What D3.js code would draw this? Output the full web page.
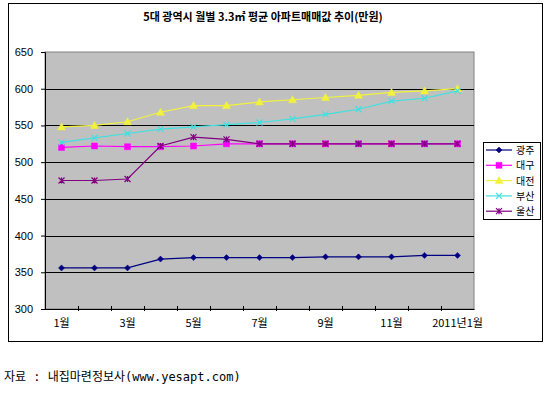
<!DOCTYPE html>
<html>
<head>
<meta charset="utf-8">
<script src="https://cdn.jsdelivr.net/npm/d3@7"></script>
<style>
  body { margin: 0; background: #fff; }
  text { font-family: "Noto Sans CJK KR", "Noto Sans", sans-serif; }
</style>
</head>
<body>
<div id="chart"></div>
<script>
var months = ['1월','2월','3월','4월','5월','6월','7월','8월','9월','10월','11월','12월','2011년1월'];
var monthLabels = ['1월','','3월','','5월','','7월','','9월','','11월','','2011년1월'];
var yTicks = [300, 350, 400, 450, 500, 550, 600, 650];

var gwangju = [356, 356, 356, 368, 370, 370, 370, 370, 371, 371, 371, 373, 373];
var daegu   = [520, 522, 521, 521, 522, 525, 525, 525, 525, 525, 525, 525, 525];
var daejeon = [548, 550, 555, 568, 577, 577, 582, 585, 588, 591, 595, 597, 600];
var busan   = [527, 533, 539, 545, 548, 551, 554, 559, 565, 572, 583, 587, 597];
var ulsan   = [475, 475, 477, 522, 534, 531, 525, 525, 525, 525, 525, 525, 525];

var seriesNames = ['광주', '대구', '대전', '부산', '울산'];
var seriesValues = [gwangju, daegu, daejeon, busan, ulsan];
var seriesColors = ['#000080', '#ff00ff', '#f2f23c', '#40e0e0', '#800080'];
var seriesMarkers = ['diamond', 'square', 'triangle', 'x', 'star'];

var width = 550, height = 393;
var svg = d3.select('#chart').append('svg')
    .attr('width', width)
    .attr('height', height);

// outer chart frame
svg.append('rect')
    .attr('x', 8.5).attr('y', 3.5)
    .attr('width', 534).attr('height', 338)
    .attr('fill', '#fff')
    .attr('stroke', '#000');

svg.append('text')
    .attr('x', 263).attr('y', 21)
    .attr('text-anchor', 'middle')
    .style('font-size', '11px')
    .style('font-weight', 'bold')
    .text('5대 광역시 월별 3.3㎡ 평균 아파트매매값 추이(만원)');

var plot = {left: 45, top: 52, right: 474, bottom: 309};

var x = d3.scaleBand()
    .domain(months)
    .range([plot.left, plot.right]);

var y = d3.scaleLinear()
    .domain([300, 650])
    .range([plot.bottom, plot.top]);

svg.append('rect')
    .attr('x', plot.left).attr('y', plot.top)
    .attr('width', plot.right - plot.left)
    .attr('height', plot.bottom - plot.top)
    .attr('fill', '#c0c0c0')
    .attr('stroke', '#808080');

svg.append('g')
    .selectAll('line')
    .data(yTicks.slice(1, -1))
    .enter()
    .append('line')
    .attr('x1', plot.left).attr('x2', plot.right)
    .attr('y1', function(d){ return Math.round(y(d)) + 0.5; })
    .attr('y2', function(d){ return Math.round(y(d)) + 0.5; })
    .attr('stroke', '#000');

var yAxis = svg.append('g')
    .attr('transform', 'translate(' + plot.left + ',0)')
    .call(d3.axisLeft(y).tickValues(yTicks).tickSize(4).tickPadding(8));
yAxis.select('.domain').attr('stroke', '#000');
yAxis.selectAll('text').style('font-size', '11px').attr('fill', '#000').style('font-family', 'Arial, "Liberation Sans", sans-serif');

var xAxis = svg.append('g')
    .attr('transform', 'translate(0,' + plot.bottom + ')')
    .call(d3.axisBottom(x).tickSize(0).tickPadding(10)
        .tickFormat(function(d, i){ return monthLabels[i]; }));
xAxis.select('.domain').attr('stroke', '#000');
xAxis.selectAll('text').style('font-size', '11px').attr('fill', '#000');

// category boundary ticks
svg.append('g')
    .selectAll('line')
    .data(months.slice(1))
    .enter()
    .append('line')
    .attr('x1', function(d){ return Math.round(x(d)) + 0.5; })
    .attr('x2', function(d){ return Math.round(x(d)) + 0.5; })
    .attr('y1', plot.bottom - 3).attr('y2', plot.bottom + 2)
    .attr('stroke', '#000');

function markerPath(type, s) {
    var p = d3.path();
    if (type === 'diamond') {
        p.moveTo(0, -s); p.lineTo(s, 0); p.lineTo(0, s); p.lineTo(-s, 0); p.closePath();
    } else if (type === 'square') {
        p.rect(-s, -s, s * 2, s * 2);
    } else if (type === 'triangle') {
        p.moveTo(0, -s - 1); p.lineTo(s + 1, s); p.lineTo(-s - 1, s); p.closePath();
    } else if (type === 'x') {
        p.moveTo(-s, -s); p.lineTo(s, s); p.moveTo(s, -s); p.lineTo(-s, s);
    } else {
        p.moveTo(-s, -s); p.lineTo(s, s); p.moveTo(s, -s); p.lineTo(-s, s);
        p.moveTo(0, -s); p.lineTo(0, s);
    }
    return p.toString();
}

function drawMarker(g, type, color, cx, cy) {
    var filled = type === 'diamond' || type === 'square' || type === 'triangle';
    g.append('path')
        .attr('transform', 'translate(' + cx + ',' + cy + ')')
        .attr('d', markerPath(type, 3))
        .attr('fill', filled ? color : 'none')
        .attr('stroke', color)
        .attr('stroke-width', filled ? 0.5 : 1.2);
}

var line = d3.line()
    .x(function(d, i){ return x(months[i]) + x.bandwidth() / 2; })
    .y(function(d){ return y(d); });

seriesValues.forEach(function(values, s) {
    var g = svg.append('g');
    g.append('path')
        .datum(values)
        .attr('d', line)
        .attr('fill', 'none')
        .attr('stroke', seriesColors[s])
        .attr('stroke-width', 1.2);
    values.forEach(function(v, i) {
        drawMarker(g, seriesMarkers[s], seriesColors[s], x(months[i]) + x.bandwidth() / 2, y(v));
    });
});

// legend
var legend = svg.append('g');
legend.append('rect')
    .attr('x', 483.5).attr('y', 142.5)
    .attr('width', 57).attr('height', 77)
    .attr('fill', '#fff')
    .attr('stroke', '#000');

seriesNames.forEach(function(name, s) {
    var ly = 150 + s * 15.3;
    legend.append('line')
        .attr('x1', 486).attr('x2', 512)
        .attr('y1', ly).attr('y2', ly)
        .attr('stroke', seriesColors[s])
        .attr('stroke-width', 1.2);
    drawMarker(legend, seriesMarkers[s], seriesColors[s], 499, ly);
    legend.append('text')
        .attr('x', 516).attr('y', ly + 4)
        .style('font-size', '10px')
        .text(name);
});

svg.append('text')
    .attr('x', 4).attr('y', 381)
    .style('font-size', '12px')
    .style('font-family', '"DejaVu Sans Mono", "Noto Sans CJK KR", monospace')
    .text('자료 : 내집마련정보사(www.yesapt.com)');
</script>
</body>
</html>
